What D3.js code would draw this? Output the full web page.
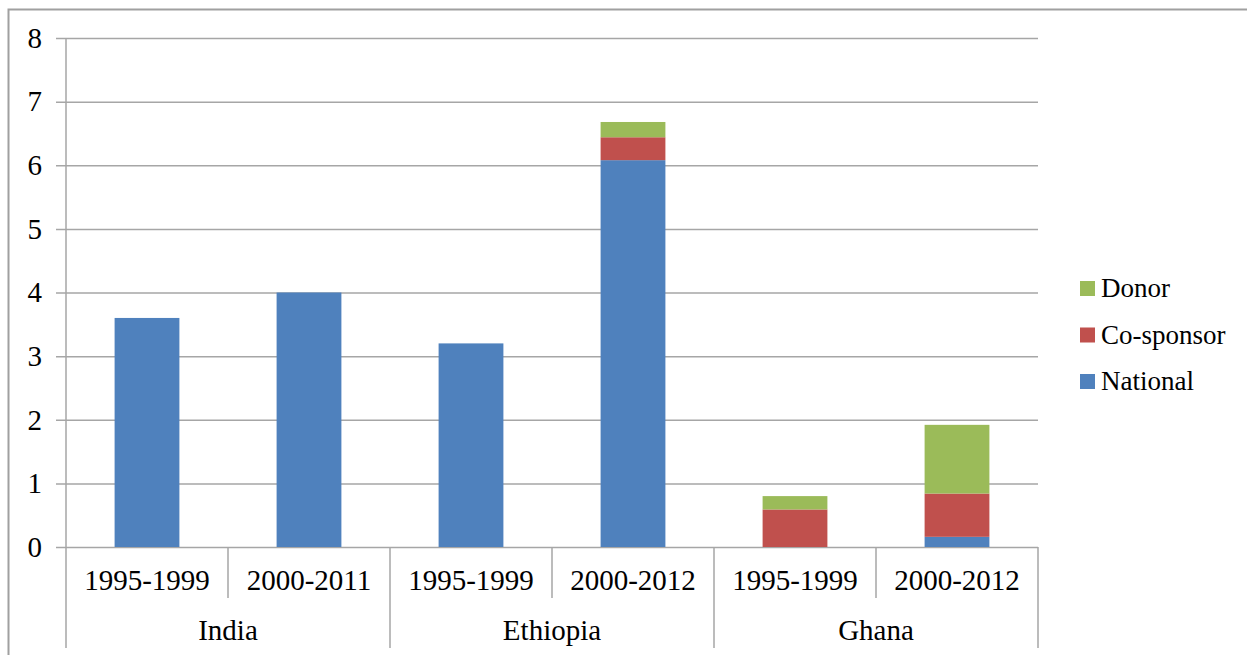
<!DOCTYPE html>
<html>
<head>
<meta charset="utf-8">
<script src="https://cdn.jsdelivr.net/npm/d3@7"></script>
<style>
	body { margin:0; background:#fff; }
	svg text { font-family:'Liberation Serif', serif; fill:#000; }
</style>
</head>
<body>
<svg class="barChart" width="1247" height="655"></svg>
<script>
// data
var groups = ['India','Ethiopia','Ghana'];
var periods = [['1995-1999','2000-2011'],['1995-1999','2000-2012'],['1995-1999','2000-2012']];
var national  = [3.6, 4.0, 3.2, 6.08, 0, 0.16];
var cosponsor = [0, 0, 0, 0.36, 0.59, 0.68];
var donor     = [0, 0, 0, 0.24, 0.21, 1.08];
var seriesNames = ['National','Co-sponsor','Donor'];
var seriesColors = ['#4f81bd','#c0504d','#9bbb59'];
var yTicks = [0,1,2,3,4,5,6,7,8];

var config = {
	left : 66,
	right : 1038,
	top : 38,
	bottom : 547,
	grid:'#a6a6a6',
	fontSize:29
};

var svg = d3.select('.barChart');

// outer frame (only top and left edges fall inside the picture)
svg.append('path')
	.attr('d','M8.5,655 V9.5 H1247')
	.attr('fill','none')
	.attr('stroke','#a0a0a0')
	.attr('stroke-width',2);

var cats = [];
groups.forEach(function(g,gi){
	periods[gi].forEach(function(p){ cats.push({group:g, period:p, key:g+'|'+p}); });
});

var rows = cats.map(function(c,i){
	return {key:c.key, National:national[i], 'Co-sponsor':cosponsor[i], Donor:donor[i]};
});

var xScale = d3.scaleBand()
	.domain(cats.map(c=>c.key))
	.range([config.left,config.right])
	.paddingInner(0.6)
	.paddingOuter(0.3);

var gScale = d3.scaleBand()
	.domain(groups)
	.range([config.left,config.right]);

var yScale = d3.scaleLinear()
	.domain([0,8])
	.range([config.bottom,config.top]);

//gridlines + labels
var yAxisGen = d3.axisLeft(yScale)
	.tickValues(yTicks)
	.tickSizeInner(-(config.right-config.left+10))
	.tickSizeOuter(0)
	.tickPadding(14)
	.tickFormat(d3.format('d'));

var yAxis = svg.append('g')
	.attr('transform','translate('+(config.left-10)+',0)')
	.call(yAxisGen);
yAxis.select('.domain').remove();
yAxis.selectAll('.tick line').attr('stroke',config.grid).attr('stroke-width',1.5);
yAxis.selectAll('.tick text')
	.attr('font-size',config.fontSize)
	.attr('font-family','Liberation Serif')
	.attr('fill','#000');

// bars
var stack = d3.stack().keys(seriesNames)(rows);
var colGen = d3.scaleOrdinal().domain(seriesNames).range(seriesColors);

svg.append('g').selectAll('g')
	.data(stack)
	.enter()
	.append('g')
	.attr('fill',d=>colGen(d.key))
	.selectAll('rect')
	.data(d=>d.filter(s=>s[1]-s[0]>0))
	.enter()
	.append('rect')
	.attr('x',d=>xScale(d.data.key))
	.attr('width',xScale.bandwidth())
	.attr('y',d=>yScale(d[1]))
	.attr('height',d=>yScale(d[0])-yScale(d[1]));

// vertical axis line
svg.append('line')
	.attr('x1',config.left).attr('x2',config.left)
	.attr('y1',config.top).attr('y2',config.bottom)
	.attr('stroke',config.grid).attr('stroke-width',1.5);

// category axis: separators
var step = xScale.step();
var catAxis = svg.append('g');
cats.forEach(function(c,i){
	var xl = xScale(c.key) - xScale.paddingInner()*step/2;
	if(i%2===1){
		catAxis.append('line')
			.attr('x1',xl).attr('x2',xl)
			.attr('y1',config.bottom).attr('y2',598)
			.attr('stroke',config.grid).attr('stroke-width',1.5);
	}
	catAxis.append('text')
		.text(c.period)
		.attr('x',xl+step/2)
		.attr('y',590)
		.attr('font-size',config.fontSize)
		.attr('text-anchor','middle');
});
groups.concat(['_end']).forEach(function(g,i){
	var xg = i<groups.length ? gScale(g) : config.right;
	catAxis.append('line')
		.attr('x1',xg).attr('x2',xg)
		.attr('y1',config.bottom).attr('y2',648)
		.attr('stroke',config.grid).attr('stroke-width',1.5);
});
groups.forEach(function(g){
	catAxis.append('text')
		.text(g)
		.attr('x',gScale(g)+gScale.bandwidth()/2)
		.attr('y',640)
		.attr('font-size',config.fontSize)
		.attr('text-anchor','middle');
});

//legend
var legend = svg.append('g')
	.attr('transform','translate(1080,281)');
var legendItems = legend.selectAll('g')
	.data(seriesNames.slice().reverse())
	.enter()
	.append('g')
	.attr('transform',(d,i)=>'translate(0,'+i*46.5+')');
legendItems.append('rect')
	.attr('width',15).attr('height',15)
	.attr('fill',d=>colGen(d));
legendItems.append('text')
	.text(d=>d)
	.attr('x',21)
	.attr('y',16)
	.attr('font-size',27);
</script>
</body>
</html>
